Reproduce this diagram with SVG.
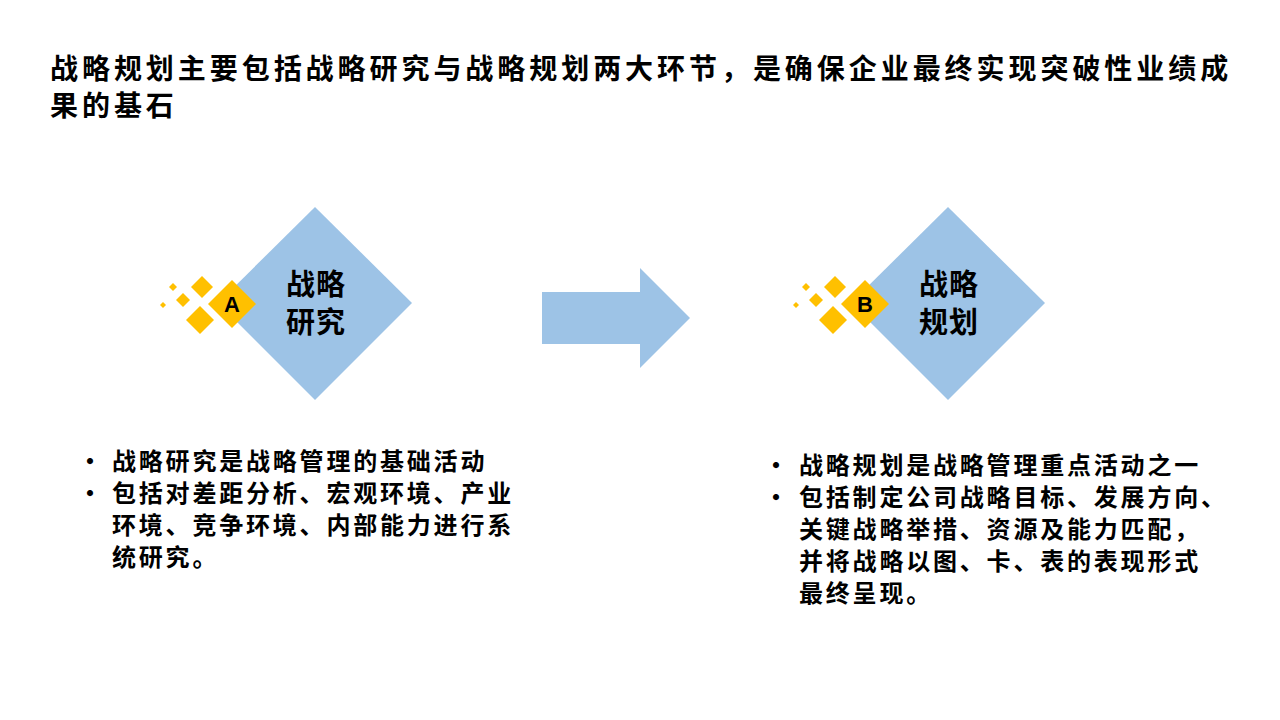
<svg xmlns="http://www.w3.org/2000/svg" width="1280" height="720" viewBox="0 0 1280 720">
<style>
text{font-family:"Noto Sans CJK SC","Liberation Sans",sans-serif;font-weight:bold;fill:#000}
.t{font-size:28px;letter-spacing:3.95px}.d{font-size:29px;letter-spacing:1px}.b{font-size:24px;letter-spacing:2.8px}.l{font-size:22px;font-family:"Liberation Sans",sans-serif}
.blue{fill:#9dc3e6}.y{fill:#ffc000}
</style>
<rect width="1280" height="720" fill="#fff"/>
<text class="t" x="50" y="79">战略规划主要包括战略研究与战略规划两大环节，是确保企业最终实现突破性业绩成</text>
<text class="t" x="50" y="116">果的基石</text>
<g id="nodeA">
<polygon class="blue" points="315,207 412,303 315,400 218,303"/>
<polygon class="y" points="202,276 213,287 202,298 191,287"/>
<polygon class="y" points="183,293 190,300 183,307 176,300"/>
<polygon class="y" points="173,283 177,287 173,291 169,287"/>
<polygon class="y" points="163,302 166,305 163,308 160,305"/>
<polygon class="y" points="200,306 214,320 200,334 186,320"/>
<polygon class="y" points="232,280 256,304 232,328 208,304"/>
<text class="l" x="232" y="312" text-anchor="middle">A</text>
<text class="d" x="316" y="295" text-anchor="middle">战略</text>
<text class="d" x="316" y="333" text-anchor="middle">研究</text>
</g>
<g id="nodeB" transform="translate(633,0)">
<polygon class="blue" points="315,207 412,303 315,400 218,303"/>
<polygon class="y" points="202,276 213,287 202,298 191,287"/>
<polygon class="y" points="183,293 190,300 183,307 176,300"/>
<polygon class="y" points="173,283 177,287 173,291 169,287"/>
<polygon class="y" points="163,302 166,305 163,308 160,305"/>
<polygon class="y" points="200,306 214,320 200,334 186,320"/>
<polygon class="y" points="232,280 256,304 232,328 208,304"/>
<text class="l" x="232" y="312" text-anchor="middle">B</text>
<text class="d" x="316" y="295" text-anchor="middle">战略</text>
<text class="d" x="316" y="333" text-anchor="middle">规划</text>
</g>
<g id="connectors">
<polygon class="blue" points="542,292 640,292 640,268 690,318 640,368 640,344 542,344"/>
</g>
<g id="textA">
<text class="b" x="78" y="470">•</text><text class="b" x="112" y="470">战略研究是战略管理的基础活动</text>
<text class="b" x="78" y="502">•</text><text class="b" x="112" y="502">包括对差距分析、宏观环境、产业</text>
<text class="b" x="112" y="534">环境、竞争环境、内部能力进行系</text>
<text class="b" x="112" y="566">统研究。</text>
</g>
<g id="textB">
<text class="b" x="764" y="474">•</text><text class="b" x="799" y="474">战略规划是战略管理重点活动之一</text>
<text class="b" x="764" y="506">•</text><text class="b" x="799" y="506">包括制定公司战略目标、发展方向、</text>
<text class="b" x="799" y="538">关键战略举措、资源及能力匹配，</text>
<text class="b" x="799" y="570">并将战略以图、卡、表的表现形式</text>
<text class="b" x="799" y="602">最终呈现。</text>
</g>
</svg>
